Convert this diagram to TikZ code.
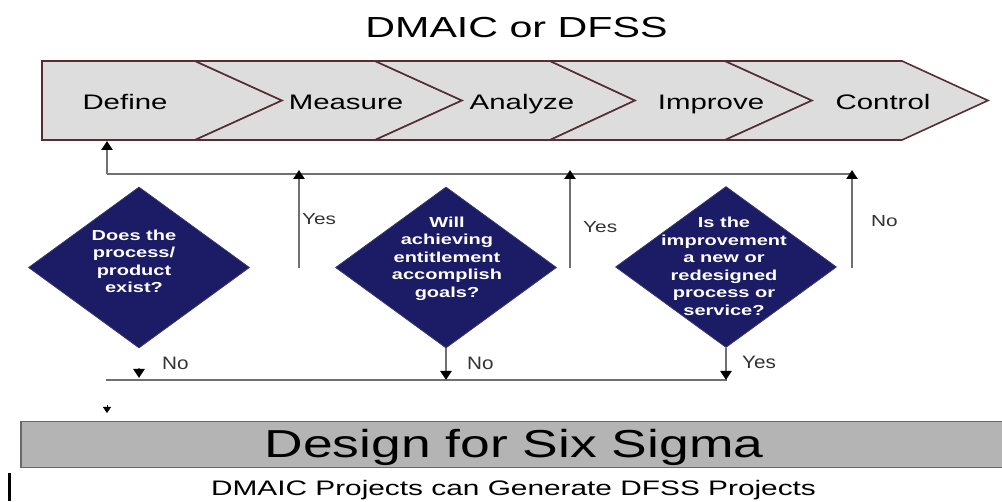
\documentclass[tikz,border=0pt]{standalone}
\usepackage{fontspec}
\setmainfont{Liberation Sans}
\usetikzlibrary{arrows.meta,shapes.geometric}
\definecolor{chevfill}{RGB}{221,221,221}
\definecolor{chevline}{RGB}{85,45,52}
\definecolor{navy}{RGB}{27,27,102}
\definecolor{connc}{RGB}{112,112,112}
\definecolor{barfill}{RGB}{180,180,180}
\definecolor{barline}{RGB}{105,105,105}
\newcommand\wide[2][1.4]{\scalebox{#1}[1]{#2}}
\begin{document}
\begin{tikzpicture}[x=1pt,y=-1pt,
  chev/.style={fill=chevfill,draw=chevline,line width=1.6pt,line join=miter},
  chevtext/.style={anchor=base,inner sep=0pt,font=\fontsize{21}{25}\selectfont},
  dia/.style={diamond,fill=navy,draw=navy!70!gray,line width=0.8pt,minimum width=221pt,minimum height=161pt,inner sep=0pt},
  diatext/.style={text=white,inner sep=0pt,align=center,font=\fontsize{14.5}{17.5}\selectfont\bfseries},
  conn/.style={draw=connc,line width=2.3pt},
  arr/.style={-{Triangle[width=11pt,length=9pt,color=black]}},
  sarr/.style={-{Triangle[width=8pt,length=6pt,color=black]}},
  lbl/.style={anchor=base west,inner sep=0pt,text=black!80,font=\fontsize{16}{19}\selectfont},
  blbl/.style={anchor=base west,inner sep=0pt,text=black!80,font=\fontsize{18}{21}\selectfont}]
\useasboundingbox (0,0) rectangle (1002,502);
\fill[white] (0,0) rectangle (1002,502);

% title
\node[anchor=base,inner sep=0pt,font=\fontsize{29}{34}\selectfont] (title) at (516.5,38) {\wide[1.42]{DMAIC or DFSS}};

% chevron bar
\draw[chev] (42,61) -- (195,61) -- (282,100.5) -- (195,140) -- (42,140) -- cycle;
\draw[chev] (195,61) -- (375,61) -- (462,100.5) -- (375,140) -- (195,140) -- (282,100.5) -- cycle;
\draw[chev] (375,61) -- (550,61) -- (635,100.5) -- (550,140) -- (375,140) -- (462,100.5) -- cycle;
\draw[chev] (550,61) -- (725,61) -- (812,100.5) -- (725,140) -- (550,140) -- (635,100.5) -- cycle;
\draw[chev] (725,61) -- (902,61) -- (988,100.5) -- (902,140) -- (725,140) -- (812,100.5) -- cycle;
\node[chevtext] (define) at (125,110) {\wide{Define}};
\node[chevtext] (measure) at (346,110) {\wide{Measure}};
\node[chevtext] (analyze) at (522,110) {\wide{Analyze}};
\node[chevtext] (improve) at (711,110) {\wide{Improve}};
\node[chevtext] (control) at (883,110) {\wide{Control}};

% diamonds
\node[dia] (d1) at (139,267.5) {};
\node[dia] (d2) at (446,267.5) {};
\node[dia] (d3) at (726,267) {};
\node[diatext] (t1) at (134,263) {\wide[1.38]{\begin{tabular}{@{}c@{}}Does the\\process/\\product\\exist?\end{tabular}}};
\node[diatext] (t2) at (447,259) {\wide[1.38]{\begin{tabular}{@{}c@{}}Will\\achieving\\entitlement\\accomplish\\goals?\end{tabular}}};
\node[diatext] (t3) at (724,268) {\wide[1.38]{\begin{tabular}{@{}c@{}}Is the\\improvement\\a new or\\redesigned\\process or\\service?\end{tabular}}};

% feedback lines (top)
\coordinate (fbL) at (107,174);
\coordinate (fbR) at (852,174);
\coordinate (barB) at (107,141);
\coordinate (y1b) at (299,268);
\coordinate (y1t) at (299,170);
\coordinate (y2b) at (570,268);
\coordinate (y2t) at (570,170);
\coordinate (n3b) at (852,268);
\coordinate (n3t) at (852,170);
\draw[conn] (fbL) -- (fbR);
\draw[conn,arr] (fbL) -- (barB);
\draw[conn,arr] (y1b) -- (y1t);
\draw[conn,arr] (y2b) -- (y2t);
\draw[conn,arr] (n3b) -- (n3t);
\node[lbl] (yes1) at (302,225) {\wide[1.3]{Yes}};
\node[lbl] (yes2) at (583,233) {\wide[1.3]{Yes}};
\node[lbl] (no3) at (871,227) {\wide[1.3]{No}};

% lower lines
\coordinate (hbL) at (106,380);
\coordinate (hbR) at (727,380);
\coordinate (a1s) at (139,368);
\coordinate (a1e) at (139,378);
\coordinate (a4s) at (107,405);
\coordinate (a4e) at (107,413);
\draw[conn] (hbL) -- (hbR);
\draw[conn,arr] (a1s) -- (a1e);
\draw[conn,arr] (d2.south) -- (d2.south |- hbL);
\draw[conn,arr] (d3.south) -- (d3.south |- hbL);
\draw[line width=0.5pt,sarr] (a4s) -- (a4e);
\node[blbl] (no1) at (162,370) {\wide[1.15]{No}};
\node[blbl] (no2) at (467,370) {\wide[1.15]{No}};
\node[blbl] (yes3) at (742,369) {\wide[1.15]{Yes}};

% DFSS bar
\node[draw=barline,fill=barfill,line width=1.5pt,minimum width=985pt,minimum height=46pt,inner sep=0pt,anchor=north west] (dfss) at (20,421) {};
\node[anchor=base,inner sep=0pt,font=\fontsize{39}{44}\selectfont] (dfsstext) at (514,458) {\wide[1.37]{Design for Six Sigma}};
\node[anchor=base,inner sep=0pt,font=\fontsize{21}{25}\selectfont] (sub) at (513.5,496) {\wide[1.42]{DMAIC Projects can Generate DFSS Projects}};
\fill[black] (8,473) rectangle (11,501);
\end{tikzpicture}
\end{document}
